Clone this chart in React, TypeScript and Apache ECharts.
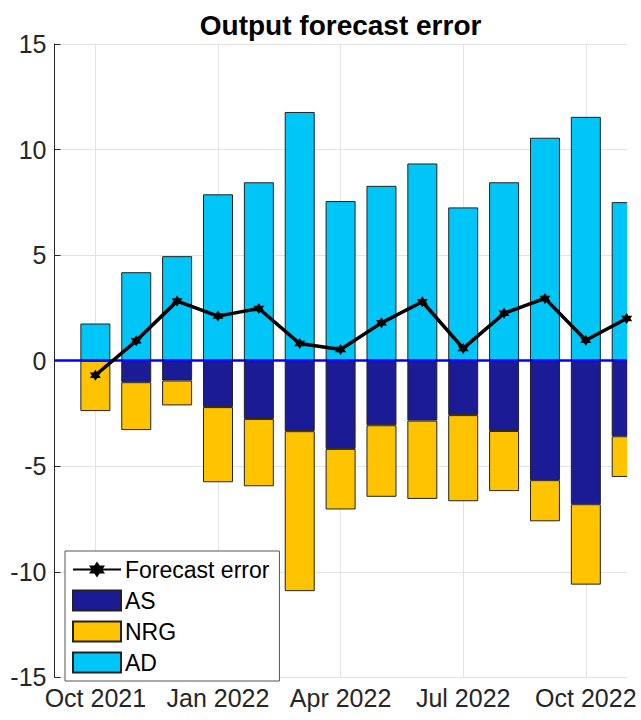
import React, { useEffect, useRef } from "react";
import * as echarts from "echarts";

const months = [
  "Sep 2021", "Oct 2021", "Nov 2021", "Dec 2021", "Jan 2022", "Feb 2022", "Mar 2022",
  "Apr 2022", "May 2022", "Jun 2022", "Jul 2022", "Aug 2022", "Sep 2022", "Oct 2022", "Nov 2022",
];
const forecastError = [null, -0.69, 0.94, 2.82, 2.11, 2.47, 0.81, 0.53, 1.79, 2.79, 0.58, 2.24, 2.95, 0.97, 2.0];
const AS = [null, 0, -1.02, -0.94, -2.2, -2.76, -3.34, -4.18, -3.06, -2.84, -2.58, -3.33, -5.66, -6.8, -3.58];
const NRG = [null, -2.39, -2.27, -1.18, -3.56, -3.19, -7.58, -2.87, -3.39, -3.71, -4.08, -2.85, -1.95, -3.81, -1.93];
const AD = [null, 1.76, 4.19, 4.95, 7.88, 8.45, 11.78, 7.56, 8.28, 9.34, 7.26, 8.45, 10.56, 11.55, 7.51];

const FONT = "'Liberation Sans', Arial, Helvetica, sans-serif";
const hexagram =
  "path://M0,-1L0.289,-0.5L0.866,-0.5L0.577,0L0.866,0.5L0.289,0.5L0,1L-0.289,0.5L-0.866,0.5L-0.577,0L-0.866,-0.5L-0.289,-0.5Z";

const showIdx = (i: number) => i % 3 === 1;

const GRID = { left: 54.5, right: 14.3, top: 44, bottom: 42.7 };

export default function App() {
  const ref = useRef<HTMLDivElement>(null);
  useEffect(() => {
    if (!ref.current) return;
    const chart = echarts.init(ref.current, undefined, { renderer: "svg" });
    const barBorder = { borderColor: "#222", borderWidth: 1 };
    chart.setOption({
      animation: false,
      backgroundColor: "#fff",
      graphic: [
        {
          type: "text",
          x: 340.6,
          y: 25,
          style: {
            text: "Output forecast error",
            fontSize: 28,
            fontWeight: "bold",
            fontFamily: FONT,
            fill: "#000",
            align: "center",
            verticalAlign: "middle",
            textAlign: "center",
            textVerticalAlign: "middle",
          },
        },
        {
          type: "rect",
          z: 5,
          silent: true,
          shape: { x: 641 - GRID.right + 0.5, y: GRID.top - 2, width: 30, height: 720 - GRID.top - GRID.bottom + 2 },
          style: { fill: "#fff" },
        },
      ],
      grid: { ...GRID, containLabel: false },
      legend: {
        orient: "vertical",
        left: 65,
        top: 551,
        z: 20,
        padding: [7, 10, 7, 7],
        itemWidth: 48,
        itemHeight: 20,
        itemGap: 8,
        backgroundColor: "#fff",
        borderColor: "#555",
        borderWidth: 1,
        borderRadius: 0,
        textStyle: { fontSize: 23, fontFamily: FONT, color: "#000", padding: [0, 0, 0, -1] },
        data: [
          { name: "Forecast error" },
          { name: "AS", icon: "rect" },
          { name: "NRG", icon: "rect" },
          { name: "AD", icon: "rect" },
        ],
      },
      xAxis: {
        type: "category",
        data: months,
        boundaryGap: false,
        axisLine: { show: true, lineStyle: { color: "#262626", width: 1 } },
        axisTick: { show: true, inside: true, length: 6, interval: (i: number) => showIdx(i), lineStyle: { color: "#262626" } },
        axisLabel: {
          interval: (i: number) => showIdx(i),
          fontSize: 25,
          fontFamily: FONT,
          color: "#262626",
          margin: 8,
        },
        splitLine: { show: true, interval: (i: number) => showIdx(i), lineStyle: { color: "#e3e3e3", width: 1 } },
      },
      yAxis: {
        type: "value",
        min: -15,
        max: 15,
        interval: 5,
        axisLine: { show: true, lineStyle: { color: "#262626", width: 1 } },
        axisTick: { show: true, inside: true, length: 6, lineStyle: { color: "#262626" } },
        axisLabel: { fontSize: 25, fontFamily: FONT, color: "#262626", margin: 8 },
        splitLine: { show: true, lineStyle: { color: "#e3e3e3", width: 1 } },
      },
      series: [
        {
          name: "AS",
          type: "bar",
          stack: "total",
          barWidth: 30,
          data: AS,
          itemStyle: { color: "#1B1B96", ...barBorder },
        },
        {
          name: "NRG",
          type: "bar",
          stack: "total",
          barWidth: 30,
          data: NRG,
          itemStyle: { color: "#FFC300", ...barBorder },
        },
        {
          name: "AD",
          type: "bar",
          stack: "total",
          barWidth: 30,
          data: AD,
          itemStyle: { color: "#00C6F8", ...barBorder },
          markLine: {
            silent: true,
            symbol: "none",
            label: { show: false },
            lineStyle: { color: "#0000FF", width: 2.5, type: "solid" },
            data: [{ yAxis: 0 }],
          },
        },
        {
          name: "Forecast error",
          type: "line",
          data: forecastError,
          z: 10,
          symbol: hexagram,
          symbolSize: 11,
          showSymbol: true,
          lineStyle: { color: "#000", width: 3.5 },
          itemStyle: { color: "#000" },
        },
      ],
    });
    return () => chart.dispose();
  }, []);
  return (
    <div
      ref={ref}
      style={{ position: "fixed", left: 0, top: 0, width: 641, height: 720, background: "#fff" }}
    />
  );
}
